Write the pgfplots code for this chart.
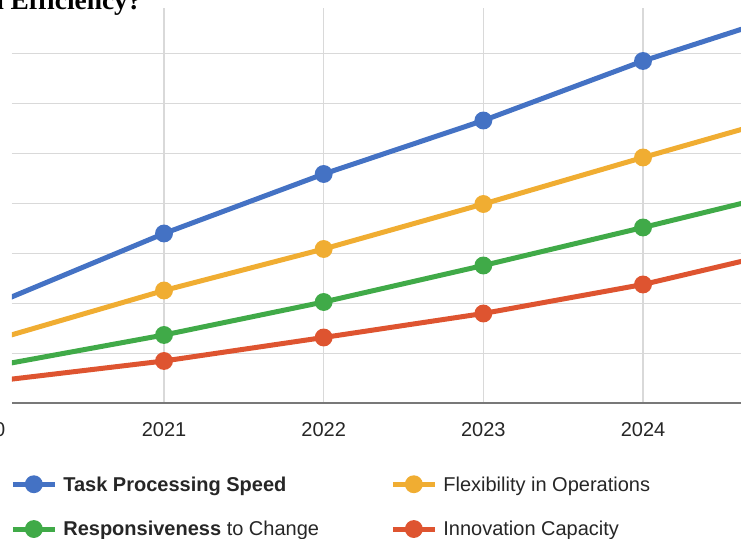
\documentclass[border=0pt]{standalone}
\usepackage{pgfplots}
\pgfplotsset{compat=1.18}
\usepackage{fontspec}
\setmainfont{Liberation Sans}
\newfontfamily\titlefont{Liberation Serif}
\definecolor{cblue}{RGB}{68,114,196}
\definecolor{corange}{RGB}{240,173,50}
\definecolor{cgreen}{RGB}{64,170,72}
\definecolor{cred}{RGB}{222,84,48}
\definecolor{gridgray}{RGB}{217,217,217}
\definecolor{axisgray}{RGB}{120,120,120}
\begin{document}
\begin{tikzpicture}
\useasboundingbox (0,0) rectangle (370.5pt,269.5pt);
\clip (0,0) rectangle (370.5pt,269.5pt);
\begin{axis}[
  at={(6pt,67.75pt)}, anchor=south west, scale only axis,
  width=395.35pt, height=197.75pt,
  xmin=2020.048, xmax=2025, ymin=0, ymax=79.1,
  axis x line*=bottom, axis y line*=left,
  y axis line style={draw=none},
  x axis line style={draw=axisgray, line width=1pt, -},
  xtick={2021,2022,2023,2024},
  xticklabels={2021,2022,2023,2024},
  ytick={10,20,30,40,50,60,70},
  yticklabels={},
  major tick length=0pt,
  grid=major,
  grid style={color=gridgray, line width=0.75pt},
  xticklabel style={anchor=center, yshift=-13.25pt, font=\fontsize{10}{12}\selectfont, text=black!85},
  every axis plot/.append style={line width=2.5pt, mark=*, mark size=3.2pt},
  legend columns=2,
  legend style={at={(-0.0026,-0.168)}, anchor=north west, draw=none, fill=none,
    font=\fontsize{10}{12}\selectfont, text=black!85, row sep=8.5pt, column sep=0pt,
    inner sep=0pt, nodes={inner sep=2pt}},
  legend cell align=left,
  legend image code/.code={\draw[mark repeat=2,mark phase=2,#1] plot coordinates {(0pt,0pt) (10.5pt,0pt) (21pt,0pt)};},
]
\addplot[color=cblue, mark options={fill=cblue}] coordinates {(2020,20.7) (2021,34.0) (2022,45.9) (2023,56.6) (2024,68.5) (2025,78.8)};
\addlegendentry{\makebox[162.5pt][l]{\hspace*{1pt}\strut\textbf{Task Processing Speed}}}
\addplot[color=corange, mark options={fill=corange}] coordinates {(2020,13.3) (2021,22.6) (2022,30.9) (2023,39.9) (2024,49.2) (2025,58.3)};
\addlegendentry{\hspace*{1pt}\strut Flexibility in Operations}
\addplot[color=cgreen, mark options={fill=cgreen}] coordinates {(2020,7.85) (2021,13.7) (2022,20.3) (2023,27.6) (2024,35.2) (2025,43.0)};
\addlegendentry{\makebox[162.5pt][l]{\hspace*{1pt}\strut\textbf{Responsiveness} to Change}}
\addplot[color=cred, mark options={fill=cred}] coordinates {(2020,4.7) (2021,8.5) (2022,13.2) (2023,18.0) (2024,23.8) (2025,31.3)};
\addlegendentry{\hspace*{1pt}\strut Innovation Capacity}
\end{axis}
\node[anchor=center, font=\fontsize{10}{12}\selectfont, text=black!85] at (-8.5pt,54.5pt) {2020};
\node[anchor=base east, inner sep=0pt, font=\titlefont\bfseries\fontsize{13.7}{16}\selectfont] at (71pt,264.5pt) {and Efficiency?};
\end{tikzpicture}
\end{document}
